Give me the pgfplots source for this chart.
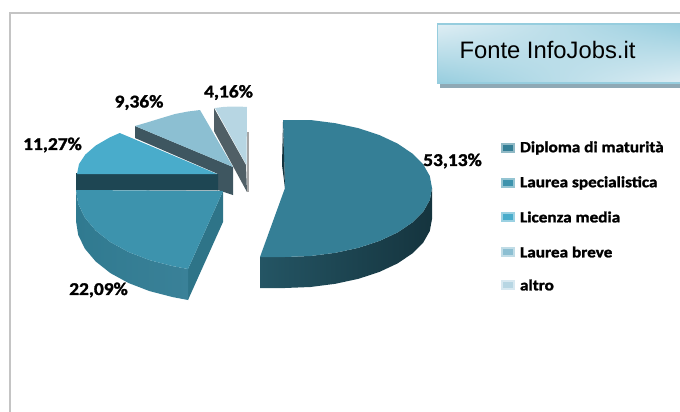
\documentclass[border=0pt]{standalone}
\usepackage{fontspec}
\setmainfont{Liberation Sans}
\newfontfamily\labf{Carlito}[BoldFeatures={FakeBold=1.5}]
\usepackage{pgfplots}
\usetikzlibrary{shadings}
\pgfplotsset{compat=1.18}
\definecolor{frame}{HTML}{C4C4C4}
\definecolor{boxb}{HTML}{96CDDE}
\definecolor{boxl}{HTML}{DFEEF4}
\definecolor{boxs}{HTML}{8FA9B5}
\definecolor{big}{HTML}{357F96}
\definecolor{bigsa}{HTML}{245564}
\definecolor{bigsb}{HTML}{15343E}
\definecolor{lau}{HTML}{3D93AD}
\definecolor{lausa}{HTML}{307A90}
\definecolor{lausb}{HTML}{3A8198}
\definecolor{lauf}{HTML}{2E7488}
\definecolor{lic}{HTML}{49ACCB}
\definecolor{licd}{HTML}{1E4653}
\definecolor{bre}{HTML}{8CBFD2}
\definecolor{bred}{HTML}{3E5660}
\definecolor{alt}{HTML}{B7D6E3}
\definecolor{altd}{HTML}{505F66}
\pgfplotsset{poly/.style={draw=none,mark=none,solid}}
\newcommand\pct[1]{\scalebox{1.08}[1]{\labf\bfseries\fontsize{18}{20}\selectfont #1}}
\newcommand\leg[1]{\scalebox{1.11}[1]{\labf\bfseries\fontsize{15.5}{17}\selectfont #1}}
\begin{document}
\begin{tikzpicture}
\useasboundingbox (0,0) rectangle (680pt,412pt);
\begin{axis}[
  scale only axis, width=680pt, height=412pt,
  xmin=0, xmax=680, ymin=0, ymax=412, y dir=reverse,
  hide axis, clip=true,
  every node/.append style={inner sep=0pt,outer sep=0pt},
]
% page frame
\addplot[draw=frame,line width=1.6pt,mark=none] coordinates {(680,13) (10,13) (10,412)};
% source box
\addplot[poly,fill=boxs] coordinates {(440,80) (680,80) (680,87.5) (440,87.5)} --cycle;
\addplot[draw=boxb,line width=1.2pt,mark=none,lower left=boxb,lower right=boxl,upper left=boxl,upper right=boxb] coordinates {(437.5,24) (681,24) (681,83) (437.5,83)} --cycle;
% altro
\addplot[poly,fill=altd] coordinates {(214,108) (246,165) (247,192) (214,131)} --cycle;
\addplot[poly,fill=alt] coordinates {(215,108) (223,107) (231,106.5) (239,106.5) (247,107) (246.5,165)} --cycle;
\addplot[poly,fill=black!35] coordinates {(247,132) (248.5,132) (248.5,192) (247,192)} --cycle;
% laurea breve
\addplot[poly,fill=bred] coordinates {(135,126) (233,167) (233,195) (218,190) (218,174) (135,138)} --cycle;
\addplot[poly,fill=bre] coordinates {(135,126) (147,122.5) (160,118.5) (175,114) (188,111.5) (200,110) (233,167)} --cycle;
% licenza media
\addplot[poly,fill=licd] coordinates {(76,173) (218,174) (218,190.5) (76,190)} --cycle;
\addplot[poly,fill=lic] coordinates {(77,174) (79,164) (85.4,154.5) (95.8,145.5) (109.8,137.4) (119.7,133) (217,174)} --cycle;
% laurea specialistica
\addplot[poly,fill=lauf] coordinates {(223,191) (223,222) (188,300) (188,269)} --cycle;
\addplot[poly,left color=lausa,right color=lausb] coordinates {(76,190) (78.2,204) (84.9,217.7) (95.7,230.5) (110.4,242.1) (128.5,252) (149.5,260.1) (172.7,266.1) (188,269) (188,300) (172.7,297.1) (149.5,291.1) (128.5,283) (110.4,273.1) (95.7,261.5) (84.9,248.7) (78.2,235) (76,221)} --cycle;
\addplot[poly,fill=lau] coordinates {(76,190) (78.2,204) (84.9,217.7) (95.7,230.5) (110.4,242.1) (128.5,252) (149.5,260.1) (172.7,266.1) (188,269) (223,191)} --cycle;
% diploma di maturita
\addplot[poly,left color=bigsa,right color=bigsb] coordinates {(432,188) (429.8,200) (423.2,211.6) (412.3,222.5) (397.6,232.4) (379.5,240.9) (358.5,247.8) (335.3,252.8) (310.5,256) (285,257) (260,257) (260,288) (285,288) (310.5,287) (335.3,283.8) (358.5,278.8) (379.5,271.9) (397.6,263.4) (412.3,253.5) (423.2,242.6) (429.8,231) (432,219)} --cycle;
\addplot[poly,fill=big] coordinates {(283,120) (310.5,120) (335.3,123.2) (358.5,128.2) (379.5,135.1) (397.6,143.6) (412.3,153.5) (423.2,164.4) (429.8,176) (432,188) (429.8,200) (423.2,211.6) (412.3,222.5) (397.6,232.4) (379.5,240.9) (358.5,247.8) (335.3,252.8) (310.5,256) (285,257) (260,257) (285,188)} --cycle;
\addplot[poly,fill=bigsb] coordinates {(283,122) (285,188) (282,165)} --cycle;
% legend keys
\addplot[mark=none,draw=big!55!white,line width=1.2pt,fill=big] coordinates {(502,144) (514,144) (514,152) (502,152)} --cycle;
\addplot[mark=none,draw=lau!55!white,line width=1.2pt,fill=lau] coordinates {(502,179) (514,179) (514,187) (502,187)} --cycle;
\addplot[mark=none,draw=lic!55!white,line width=1.2pt,fill=lic] coordinates {(502,213) (514,213) (514,221) (502,221)} --cycle;
\addplot[mark=none,draw=bre!55!white,line width=1.2pt,fill=bre] coordinates {(502,248) (514,248) (514,256) (502,256)} --cycle;
\addplot[mark=none,draw=alt!55!white,line width=1.2pt,fill=alt] coordinates {(502,281) (514,281) (514,289) (502,289)} --cycle;
% texts
\node at (axis cs:547.5,50) {\fontsize{23.8}{26}\selectfont Fonte InfoJobs.it};
\node at (axis cs:452.5,161) {\pct{53,13\%}};
\node at (axis cs:98.5,290) {\pct{22,09\%}};
\node at (axis cs:52.5,145) {\pct{11,27\%}};
\node at (axis cs:139,102.5) {\pct{9,36\%}};
\node at (axis cs:228.5,92.5) {\pct{4,16\%}};
\node[anchor=west] at (axis cs:516.5,148) {\leg{Diploma di maturità}};
\node[anchor=west] at (axis cs:516.5,183) {\leg{Laurea specialistica}};
\node[anchor=west] at (axis cs:516.5,217) {\leg{Licenza media}};
\node[anchor=west] at (axis cs:516.5,252) {\leg{Laurea breve}};
\node[anchor=west] at (axis cs:516.5,285) {\leg{altro}};
\end{axis}
\end{tikzpicture}
\end{document}
